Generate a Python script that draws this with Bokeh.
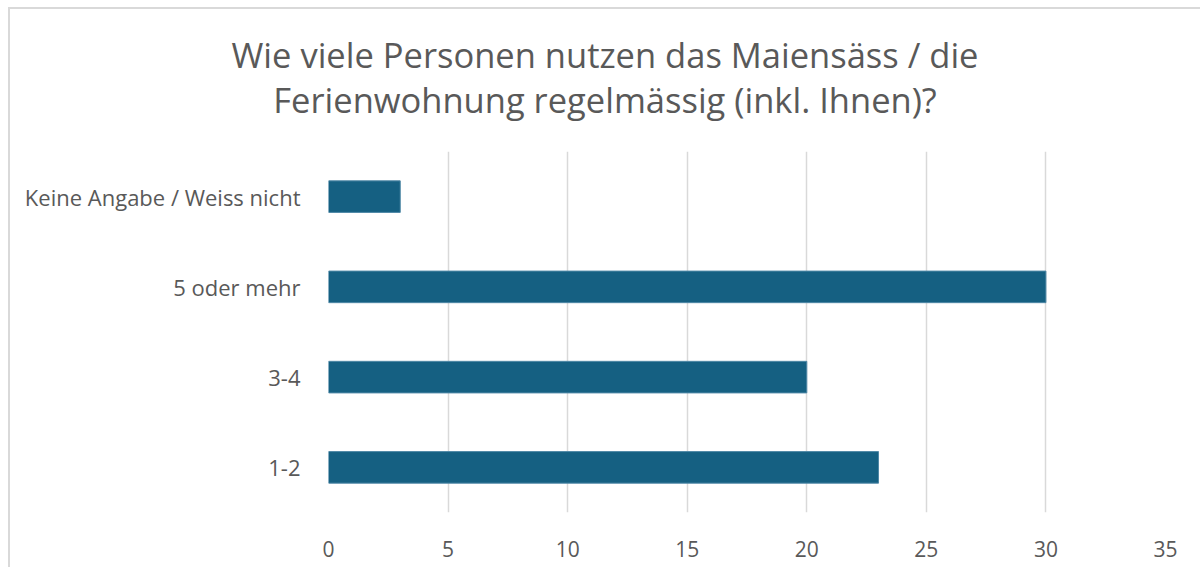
from bokeh.plotting import figure
from bokeh.models import FactorRange, Range1d, SingleIntervalTicker, Div
from bokeh.layouts import column
from bokeh.embed import file_html
from bokeh.resources import INLINE

categories = ["1-2", "3-4", "5 oder mehr", "Keine Angabe / Weiss nicht"]
values = [23, 20, 30, 3]
title_lines = ["Wie viele Personen nutzen das Maiensäss / die",
               "Ferienwohnung regelmässig (inkl. Ihnen)?"]

FONT = "Open Sans"
GREY = "#595959"
W = 1190
TITLE_H = 142
PLOT_H = 416

title = Div(text="<br>".join(title_lines), width=W, height=TITLE_H, margin=0,
            styles={"font-family": FONT, "font-size": "34.5px", "color": GREY,
                    "text-align": "center", "line-height": "45px",
                    "padding-top": "23px", "box-sizing": "border-box"})

p = figure(width=W, height=PLOT_H, output_backend="svg", toolbar_location=None,
           y_range=FactorRange(factors=categories, range_padding=0),
           x_range=Range1d(0, 35),
           min_border_left=318, min_border_right=35, min_border_top=0,
           min_border_bottom=55)

p.hbar(y=categories, right=values, height=0.35, fill_color="#156082",
       line_color="#4f88a6", line_width=1)

p.xaxis.ticker = SingleIntervalTicker(interval=5)
p.xaxis.axis_line_color = None
p.xaxis.major_tick_line_color = None
p.xaxis.minor_tick_line_color = None
p.xaxis.major_label_standoff = 22
p.xaxis.major_label_text_font = FONT
p.xaxis.major_label_text_font_size = "21px"
p.xaxis.major_label_text_color = GREY

p.yaxis.axis_line_color = None
p.yaxis.major_tick_line_color = None
p.yaxis.minor_tick_line_color = None
p.yaxis.major_label_standoff = 22
p.yaxis.major_label_text_font = FONT
p.yaxis.major_label_text_font_size = "22px"
p.yaxis.major_label_text_color = GREY

p.xgrid.grid_line_color = "#d9d9d9"
p.xgrid.grid_line_width = 1.5
p.ygrid.grid_line_color = None
p.outline_line_color = None

layout = column(title, p, spacing=0)
layout.styles = {"margin-left": "8px", "margin-top": "7px",
                 "border-left": "2px solid #d9d9d9", "border-top": "2px solid #d9d9d9"}

open("out.html", "w").write(file_html(layout, INLINE))
